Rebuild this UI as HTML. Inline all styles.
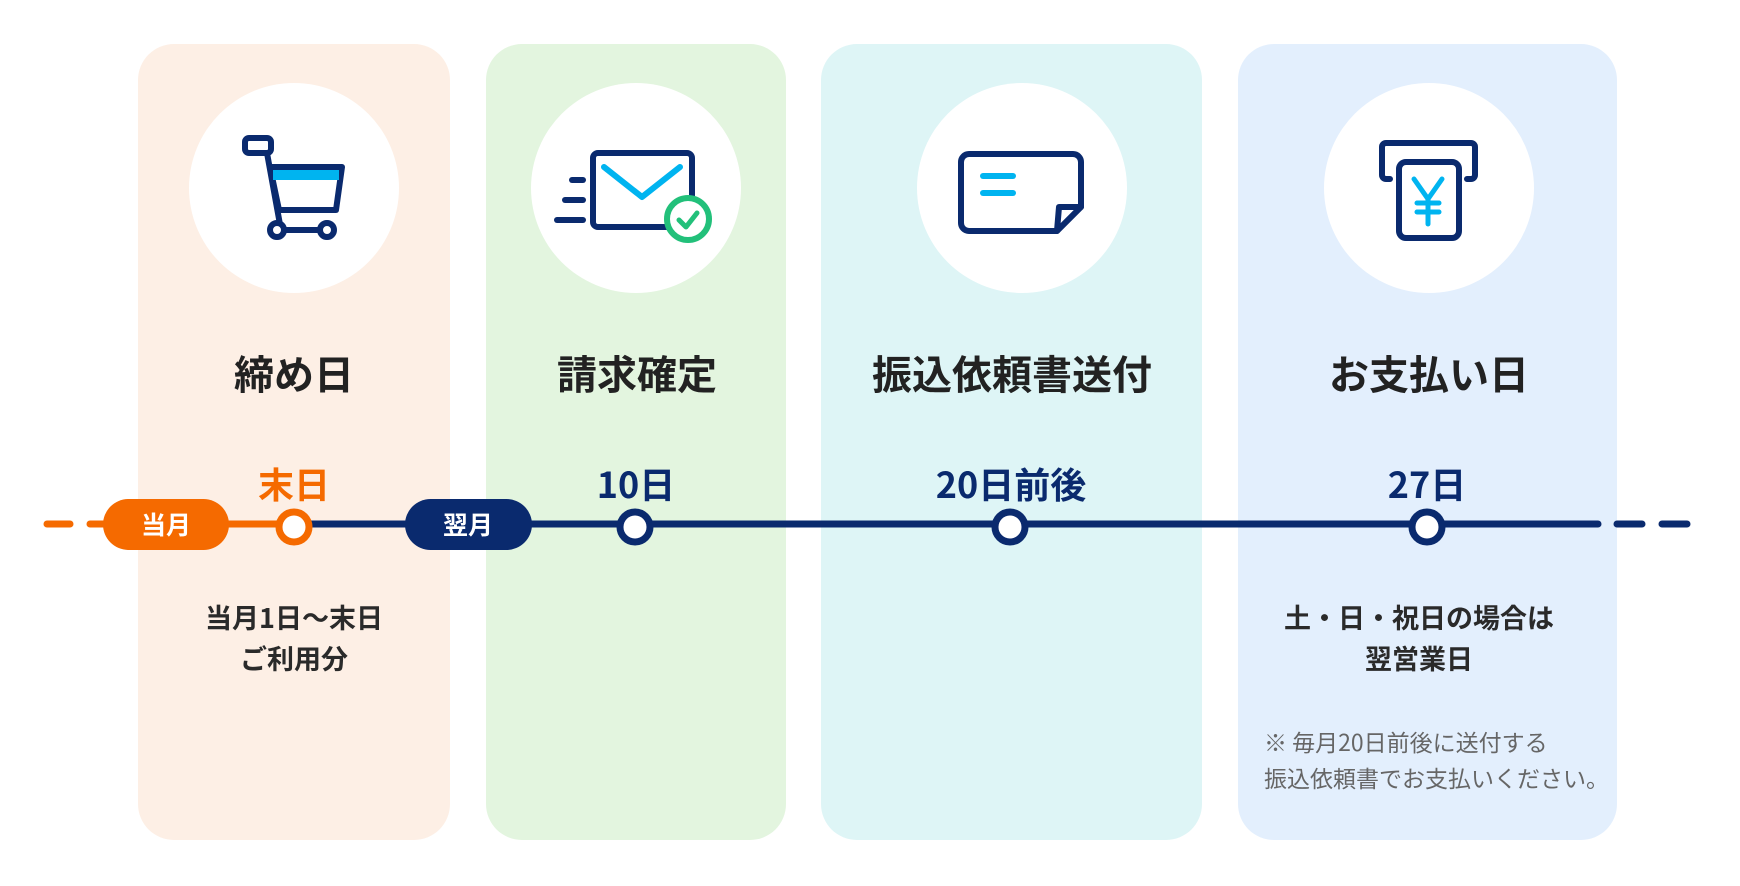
<!DOCTYPE html>
<html><head><meta charset="utf-8"><style>
html,body{margin:0;padding:0;background:#fff}
body{width:1740px;height:886px;position:relative;overflow:hidden;font-family:"Noto Sans CJK JP","Liberation Sans",sans-serif}
.p{position:absolute;top:44px;height:796px;border-radius:36px}
.c{position:absolute;width:210px;height:210px;border-radius:50%;background:#fff;top:83px}
.t{position:absolute;top:348px;width:400px;margin-left:-200px;text-align:center;font-size:40px;font-weight:bold;color:#222;line-height:48px}
.d{position:absolute;top:462px;width:300px;margin-left:-150px;text-align:center;font-size:36px;font-weight:bold;color:#0a2a6e;line-height:42px}
.s{position:absolute;top:596px;width:400px;margin-left:-200px;text-align:center;font-size:27px;font-weight:bold;color:#2a2a2a;line-height:41px}
.n{position:absolute;left:1264px;top:723px;font-size:23px;color:#666;line-height:36px}
</style></head><body>
<div class="p" style="left:138px;width:312px;background:#fdefe5"></div>
<div class="p" style="left:486px;width:300px;background:#e3f5df"></div>
<div class="p" style="left:821px;width:381px;background:#def5f6"></div>
<div class="p" style="left:1238px;width:379px;background:#e3effd"></div>
<div class="c" style="left:189px"></div>
<div class="c" style="left:531px"></div>
<div class="c" style="left:917px"></div>
<div class="c" style="left:1324px"></div>
<svg width="1740" height="886" style="position:absolute;left:0;top:0">
<g fill="none" stroke="#0a2a6e" stroke-width="6" stroke-linejoin="round" stroke-linecap="round">
<rect x="245" y="138" width="26" height="15" rx="4"/>
<polyline points="267,153 281,230"/>
<polygon points="270,167 342,167 336,210 279,210"/>
<line x1="282" y1="230" x2="322" y2="230"/>
<circle cx="277" cy="230" r="7" fill="#fff"/>
<circle cx="327" cy="230" r="7" fill="#fff"/>
</g>
<rect x="273" y="170" width="66" height="10" fill="#00b4f0"/>
<g fill="none" stroke-linecap="round" stroke-linejoin="round">
<rect x="593" y="153" width="99" height="74" rx="5" stroke="#0a2a6e" stroke-width="6"/>
<polyline points="604,167 642,197 680,167" stroke="#00b4f0" stroke-width="6"/>
<line x1="572" y1="180" x2="583" y2="180" stroke="#0a2a6e" stroke-width="6"/>
<line x1="565" y1="200" x2="583" y2="200" stroke="#0a2a6e" stroke-width="6"/>
<line x1="557" y1="220" x2="583" y2="220" stroke="#0a2a6e" stroke-width="6"/>
<circle cx="688" cy="219" r="21" fill="#fff" stroke="#22c07a" stroke-width="6"/>
<polyline points="679,220 686,227 697,213" stroke="#22c07a" stroke-width="5"/>
</g>
<g fill="none" stroke-linecap="round" stroke-linejoin="round" transform="translate(-3,0)">
<path d="M972,154 H1076 a8,8 0 0 1 8,8 V207 L1060,231 H972 a8,8 0 0 1 -8,-8 V162 a8,8 0 0 1 8,-8 Z" stroke="#0a2a6e" stroke-width="6"/>
<polyline points="1084,207 1062,207 1060,231" stroke="#0a2a6e" stroke-width="6"/>
<line x1="986" y1="176" x2="1016" y2="176" stroke="#00b4f0" stroke-width="6"/>
<line x1="986" y1="193" x2="1016" y2="193" stroke="#00b4f0" stroke-width="6"/>
</g>
<g fill="none" stroke-linecap="round" stroke-linejoin="round" transform="translate(-7,0)">
<path d="M1397,179 H1393 a4,4 0 0 1 -4,-4 V147 a4,4 0 0 1 4,-4 H1478 a4,4 0 0 1 4,4 V175 a4,4 0 0 1 -4,4 H1474" stroke="#0a2a6e" stroke-width="6"/>
<rect x="1406" y="162" width="60" height="76" rx="7" fill="#fff" stroke="#0a2a6e" stroke-width="6"/>
<polyline points="1421,179 1435,199 1449,179" stroke="#00b4f0" stroke-width="5"/>
<line x1="1435" y1="199" x2="1435" y2="224" stroke="#00b4f0" stroke-width="5"/>
<line x1="1424" y1="203" x2="1446" y2="203" stroke="#00b4f0" stroke-width="5"/>
<line x1="1424" y1="212" x2="1446" y2="212" stroke="#00b4f0" stroke-width="5"/>
</g>
<g stroke-linecap="round" stroke-width="7">
<line x1="47" y1="524" x2="70" y2="524" stroke="#f56a00"/>
<line x1="90" y1="524" x2="294" y2="524" stroke="#f56a00"/>
<line x1="294" y1="524" x2="1598" y2="524" stroke="#0a2a6e"/>
<line x1="1617" y1="524" x2="1642" y2="524" stroke="#0a2a6e"/>
<line x1="1662" y1="524" x2="1687" y2="524" stroke="#0a2a6e"/>
</g>
<rect x="103" y="499" width="126" height="51" rx="25.5" fill="#f56a00"/>
<rect x="405" y="499" width="127" height="51" rx="25.5" fill="#0a2a6e"/>
<text x="166" y="534" text-anchor="middle" font-size="25" font-weight="bold" fill="#fff" font-family="Noto Sans CJK JP, sans-serif">当月</text>
<text x="468" y="534" text-anchor="middle" font-size="25" font-weight="bold" fill="#fff" font-family="Noto Sans CJK JP, sans-serif">翌月</text>
<circle cx="294" cy="527" r="15" fill="#fff" stroke="#f56a00" stroke-width="7"/>
<circle cx="635" cy="527" r="15" fill="#fff" stroke="#0a2a6e" stroke-width="7"/>
<circle cx="1010" cy="527" r="15" fill="#fff" stroke="#0a2a6e" stroke-width="7"/>
<circle cx="1427" cy="527" r="15" fill="#fff" stroke="#0a2a6e" stroke-width="7"/>
</svg>
<div class="t" style="left:294px">締め日</div>
<div class="t" style="left:637px">請求確定</div>
<div class="t" style="left:1012px">振込依頼書送付</div>
<div class="t" style="left:1429px">お支払い日</div>
<div class="d" style="left:294px;color:#f56a00">末日</div>
<div class="d" style="left:636px">10日</div>
<div class="d" style="left:1011px">20日前後</div>
<div class="d" style="left:1427px">27日</div>
<div class="s" style="left:294px">当月1日〜末日<br>ご利用分</div>
<div class="s" style="left:1419px">土・日・祝日の場合は<br>翌営業日</div>
<div class="n">※ 毎月20日前後に送付する<br>振込依頼書でお支払いください。</div>
</body></html>
